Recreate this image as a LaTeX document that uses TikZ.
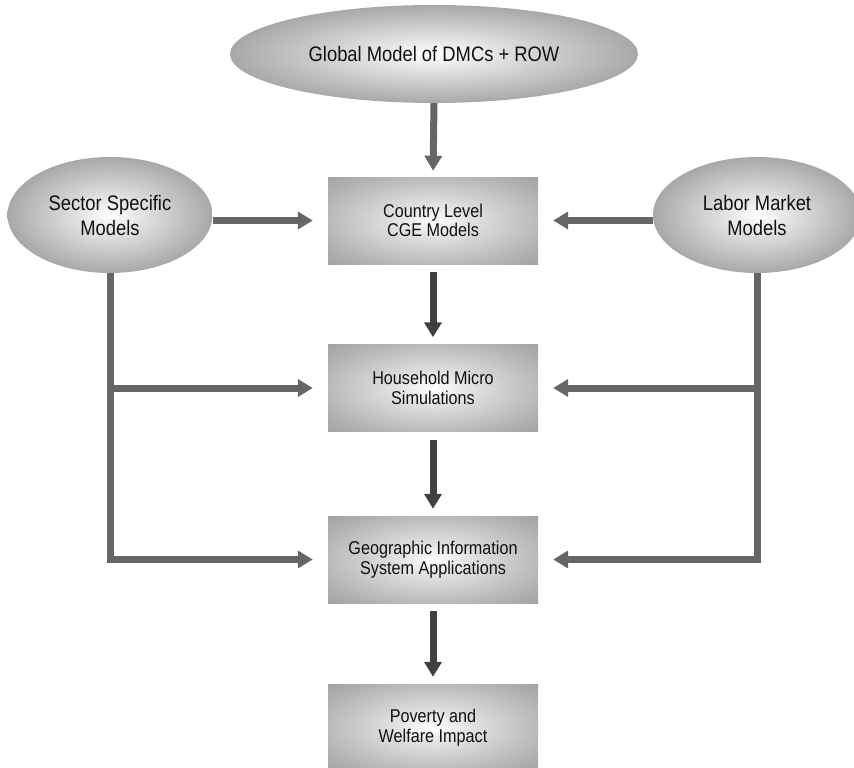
\documentclass[tikz,border=0pt]{standalone}
\usepackage{fontspec}
\setmainfont[FakeStretch=0.875]{Liberation Sans}
\usetikzlibrary{arrows.meta,shapes.geometric}
\definecolor{ellmid}{HTML}{979797}
\definecolor{ellin}{HTML}{E2E2E2}
\definecolor{ellout}{HTML}{666666}
\definecolor{boxin}{HTML}{E4E4E4}
\definecolor{boxmid}{HTML}{B2B2B2}
\definecolor{boxout}{HTML}{858585}
\definecolor{arrgray}{HTML}{666666}
\definecolor{arrdark}{HTML}{404040}
\definecolor{txt}{HTML}{111111}
\pgfdeclareradialshading{ellshade}{\pgfpoint{0bp}{0bp}}{color(0bp)=(white); color(8bp)=(ellin); color(30bp)=(ellmid); color(50bp)=(ellout)}
\pgfdeclareradialshading{boxshade}{\pgfpoint{0bp}{0bp}}{color(0bp)=(white); color(8bp)=(boxin); color(28bp)=(boxmid); color(50bp)=(boxout)}
\begin{document}
\begin{tikzpicture}[x=1pt,y=-1pt,
  ell/.style={ellipse, inner sep=0pt, shading=ellshade, text=txt, align=center, font=\fontsize{21}{25}\selectfont},
  blk/.style={rectangle, inner sep=0pt, minimum width=210pt, minimum height=87pt, shading=boxshade, text=txt, align=center, font=\fontsize{18.5}{19.5}\selectfont},
  garrow/.style={draw=arrgray, line width=7pt, -{Triangle[width=17pt,length=15pt]}},
  darrow/.style={draw=arrdark, line width=7pt, -{Triangle[width=17pt,length=15pt]}, shorten <=8pt, shorten >=7pt},
]
\clip (0,0) rectangle (854,768);
\node[ell, minimum width=408pt, minimum height=98pt] (glob) at (434,54) {Global Model of DMCs + ROW};
\node[ell, minimum width=205pt, minimum height=116pt] (sec) at (110,215) {Sector Specific\\Models};
\node[ell, minimum width=208pt, minimum height=116pt] (lab) at (757,215) {Labor Market\\Models};
\node[blk] (cge) at (433,220.5) {Country Level\\CGE Models};
\node[blk] (hh) at (433,388) {Household Micro\\Simulations};
\node[blk] (gis) at (433,559.5) {Geographic Information\\System Applications};
\node[blk] (pov) at (433,727.5) {Poverty and\\Welfare Impact};
% top arrow
\draw[garrow, shorten >=6pt] (glob.south) -- (cge.north);
% chain arrows
\draw[darrow] (cge.south) -- (hh.north);
\draw[darrow] (hh.south) -- (gis.north);
\draw[darrow] (gis.south) -- (pov.north);
% left side
\draw[garrow, shorten >=15pt] (sec.east |- cge.west) -- (cge.west);
\draw[garrow, shorten >=15pt] (sec.south) |- (gis.west);
\draw[garrow, shorten >=15pt] (sec.south |- hh.west) -- (hh.west);
% right side
\draw[garrow, shorten >=15pt] (lab.west |- cge.east) -- (cge.east);
\draw[garrow, shorten >=15pt] (lab.south) |- (gis.east);
\draw[garrow, shorten >=15pt] (lab.south |- hh.east) -- (hh.east);
\end{tikzpicture}
\end{document}
